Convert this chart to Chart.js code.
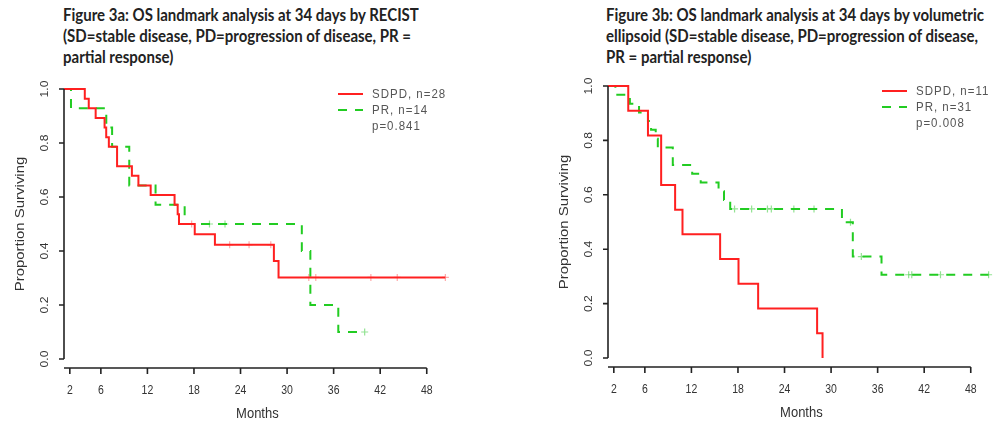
<!DOCTYPE html>
<html>
<head>
<meta charset="utf-8">
<script src="https://cdn.jsdelivr.net/npm/chart.js@4.4.1/dist/chart.umd.min.js"></script>
<style>
  body { margin: 0; background: #fff; width: 1000px; height: 429px; overflow: hidden; position: relative; }
  .title {
    position: absolute; top: 4px; white-space: nowrap;
    font: bold 15px Lato, "Open Sans", sans-serif; line-height: 18px; color: #222;
    transform: scaleY(1.15); transform-origin: 0 0;
  }
  .panel { position: absolute; top: 0; }
</style>
</head>
<body>
<div class="title" id="title3a" style="left:63px"></div>
<div class="title" id="title3b" style="left:606px"></div>
<canvas class="panel" id="chart3a" width="456" height="429" style="left:0"></canvas>
<canvas class="panel" id="chart3b" width="456" height="429" style="left:544px"></canvas>
<script>
// titulos
const title3a = ['Figure 3a: OS landmark analysis at 34 days by RECIST',
  '(SD=stable disease, PD=progression of disease, PR =',
  'partial response)'];
const title3b = ['Figure 3b: OS landmark analysis at 34 days by volumetric',
  'ellipsoid (SD=stable disease, PD=progression of disease,',
  'PR = partial response)'];

// ejes
const xTicks = [2, 6, 12, 18, 24, 30, 36, 42, 48];
const yTicks = [0, 0.2, 0.4, 0.6, 0.8, 1.0];
const yTickLabels = ['0.0', '0.2', '0.4', '0.6', '0.8', '1.0'];
const xTitle = 'Months';
const yTitle = 'Proportion Surviving';

// 3a - RECIST
const recistSdpdT = [1.25, 3.93, 4.44, 5.33, 6.48, 6.69, 7.03, 8.09, 10.0, 10.84, 12.42, 15.5, 15.9, 16.07, 18.1, 20.7, 28.3, 28.9, 50.4];
const recistSdpdS = [1.0, 0.964, 0.929, 0.893, 0.857, 0.821, 0.786, 0.714, 0.679, 0.643, 0.607, 0.571, 0.536, 0.5, 0.462, 0.423, 0.363, 0.302, 0.302];
const recistSdpdCensT = [17.7, 22.6, 25.1, 27.9, 32.8, 33.7, 40.8, 44.2, 50.4];
const recistSdpdCensS = [0.5, 0.423, 0.423, 0.423, 0.302, 0.302, 0.302, 0.302, 0.302];
const recistPrT = [1.25, 2.15, 6.7, 7.45, 9.66, 13.05, 16.8, 31.9, 33.0, 36.6, 40.0];
const recistPrS = [1.0, 0.929, 0.857, 0.786, 0.643, 0.571, 0.5, 0.4, 0.2, 0.1, 0.1];
const recistPrCensT = [20.0, 22.0, 40.0];
const recistPrCensS = [0.5, 0.5, 0.1];
const recistLabels = ['SDPD, n=28', 'PR, n=14'];
const recistP = 'p=0.841';

// 3b - volumetric ellipsoid
const volSdpdT = [1.25, 3.86, 6.4, 8.1, 9.9, 10.85, 15.7, 18.07, 20.6, 28.2, 28.9];
const volSdpdS = [1.0, 0.909, 0.818, 0.636, 0.545, 0.455, 0.364, 0.273, 0.182, 0.091, 0.0];
const volPrT = [1.25, 2.2, 4.07, 5.25, 6.4, 6.8, 7.4, 7.67, 9.6, 12.1, 13.2, 15.5, 16.2, 17.0, 31.4, 32.8, 36.5, 50.3];
const volPrS = [1.0, 0.968, 0.935, 0.903, 0.871, 0.839, 0.806, 0.774, 0.71, 0.677, 0.645, 0.613, 0.581, 0.548, 0.499, 0.373, 0.306, 0.306];
const volPrCensT = [17.56, 19.76, 21.8, 22.3, 25.2, 27.8, 32.5, 33.9, 40.0, 40.4, 44.1, 50.3];
const volPrCensS = [0.548, 0.548, 0.548, 0.548, 0.548, 0.548, 0.499, 0.373, 0.306, 0.306, 0.306, 0.306];
const volLabels = ['SDPD, n=11', 'PR, n=31'];
const volP = 'p=0.008';

const ROJO = '#ff2020';
const VERDE = '#22cc22';
const DASH = [9, 8];
const SY = 1.15; // la referencia esta algo estirada en vertical

document.getElementById('title3a').innerHTML = title3a.join('<br>');
document.getElementById('title3b').innerHTML = title3b.join('<br>');

function pts(t, s) {
  return t.map((v, i) => ({ x: v, y: s[i] }));
}

function texto(ctx, s, x, y, font, color, align, baseline, rot, esp) {
  ctx.save();
  ctx.translate(x, y);
  ctx.scale(1, SY);
  if (rot) ctx.rotate(rot);
  ctx.font = font;
  ctx.fillStyle = color;
  ctx.textAlign = align;
  ctx.textBaseline = baseline;
  if (esp) ctx.letterSpacing = esp;
  ctx.fillText(s, 0, 0);
  ctx.restore();
}

// ejes estilo R + leyenda
const ejesR = {
  id: 'ejesR',
  afterDatasetsDraw(chart, args, opts) {
    const { ctx, chartArea: a } = chart;
    const x = chart.scales.x, y = chart.scales.y;
    const ax = a.left;
    const y0 = y.getPixelForValue(0);
    const ay = y0 + 9;
    ctx.save();
    ctx.strokeStyle = '#222';
    ctx.lineWidth = 1.6;
    ctx.beginPath();
    ctx.moveTo(ax, y0);
    ctx.lineTo(ax, y.getPixelForValue(1));
    yTicks.forEach(v => {
      const py = y.getPixelForValue(v);
      ctx.moveTo(ax, py);
      ctx.lineTo(ax - 5, py);
    });
    ctx.moveTo(ax, ay);
    ctx.lineTo(x.getPixelForValue(xTicks[xTicks.length - 1]), ay);
    xTicks.forEach(v => {
      const px = x.getPixelForValue(v);
      ctx.moveTo(px, ay);
      ctx.lineTo(px, ay + 6);
    });
    ctx.stroke();
    ctx.restore();

    const fTick = '10.5px "Liberation Sans", Arial, sans-serif';
    xTicks.forEach(v => texto(ctx, String(v), x.getPixelForValue(v), ay + 23, fTick, '#333', 'center', 'middle'));
    yTicks.forEach((v, i) => texto(ctx, yTickLabels[i], ax - 19, y.getPixelForValue(v), fTick, '#333', 'center', 'middle', -Math.PI / 2));

    const fTit = '13px "Liberation Sans", Arial, sans-serif';
    texto(ctx, xTitle, (a.left + a.right) / 2, ay + 46, fTit, '#333', 'center', 'middle');
    texto(ctx, yTitle, ax - 44, (y0 + y.getPixelForValue(1)) / 2, fTit, '#333', 'center', 'middle', -Math.PI / 2);

    // leyenda
    const top = y.getPixelForValue(1);
    const lx = ax + 274;
    const fLeg = '11.5px "Liberation Sans", Arial, sans-serif';
    [0, 1].forEach(i => {
      const ds = chart.data.datasets[i];
      const ly = top + 5 + i * 16;
      ctx.save();
      ctx.strokeStyle = ds.borderColor;
      ctx.lineWidth = 2;
      ctx.setLineDash(ds.borderDash || []);
      ctx.beginPath();
      ctx.moveTo(lx, ly);
      ctx.lineTo(lx + 25, ly);
      ctx.stroke();
      ctx.restore();
      texto(ctx, ds.label, lx + 34, ly, fLeg, '#555', 'left', 'middle', 0, '1px');
    });
    texto(ctx, opts.pValor, lx + 34, top + 37, fLeg, '#555', 'left', 'middle', 0, '1px');
  }
};

function curva(label, t, s, color, dash) {
  return {
    label: label,
    data: pts(t, s),
    borderColor: color,
    borderWidth: 2,
    borderDash: dash,
    stepped: true,
    pointRadius: 0,
    fill: false,
    clip: false
  };
}

function censuras(t, s, color) {
  return {
    label: '',
    data: pts(t, s),
    showLine: false,
    pointStyle: 'cross',
    pointRadius: 3.5,
    pointBorderWidth: 1.2,
    pointBorderColor: color,
    pointBackgroundColor: color,
    clip: false
  };
}

function crearGrafico(id, datasets, pValor, padTop, padBottom, xMax) {
  return new Chart(document.getElementById(id).getContext('2d'), {
    type: 'line',
    data: { datasets: datasets },
    options: {
      responsive: false,
      animation: false,
      layout: { padding: { left: 64, right: 0, top: padTop, bottom: padBottom } },
      scales: {
        x: { type: 'linear', min: 1.25, max: xMax, display: false },
        y: { type: 'linear', min: 0, max: 1, display: false }
      },
      plugins: {
        legend: { display: false },
        tooltip: { enabled: false },
        ejesR: { pValor: pValor }
      }
    },
    plugins: [ejesR]
  });
}

crearGrafico('chart3a', [
  curva(recistLabels[0], recistSdpdT, recistSdpdS, ROJO, []),
  curva(recistLabels[1], recistPrT, recistPrS, VERDE, DASH),
  censuras(recistSdpdCensT, recistSdpdCensS, 'rgba(255,40,40,0.4)'),
  censuras(recistPrCensT, recistPrCensS, 'rgba(40,200,40,0.5)')
], recistP, 89, 70, 51.1);

crearGrafico('chart3b', [
  curva(volLabels[0], volSdpdT, volSdpdS, ROJO, []),
  curva(volLabels[1], volPrT, volPrS, VERDE, DASH),
  censuras(volPrCensT, volPrCensS, 'rgba(40,200,40,0.5)')
], volP, 86, 71, 51.1);
</script>
</body>
</html>
